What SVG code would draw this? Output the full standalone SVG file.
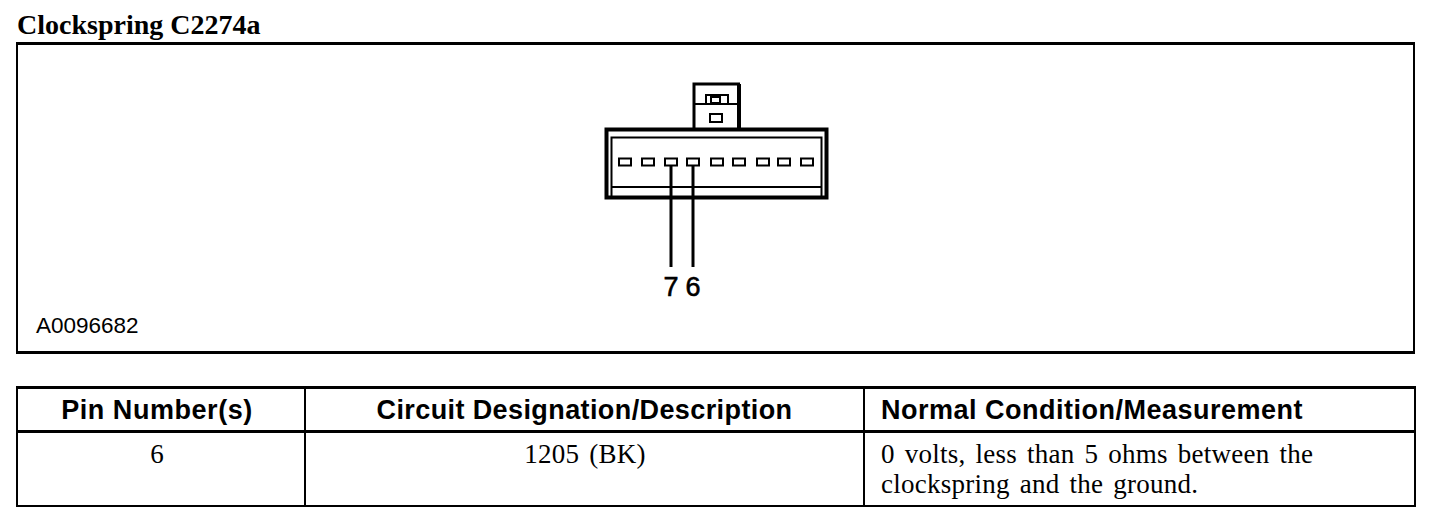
<svg xmlns="http://www.w3.org/2000/svg" width="1456" height="526" viewBox="0 0 1456 526">
<style>
.b{fill:none;stroke:#000;stroke-width:3}
.t{fill:none;stroke:#000;stroke-width:2}
.p{fill:#fff;stroke:#000;stroke-width:2}
.sans{font-family:"Liberation Sans",Arial,sans-serif;fill:#000}
.serif{font-family:"Liberation Serif","Times New Roman",serif;fill:#000}
.h{font-size:27px;font-weight:700}
.c{font-size:27px;word-spacing:3px;letter-spacing:.25px}
.n{font-size:27px;text-anchor:middle;stroke:#000;stroke-width:.6}
</style>
<rect width="1456" height="526" fill="#fff"/>
<text id="title" class="serif" x="17" y="34" font-size="28" font-weight="700">Clockspring C2274a</text>
<g id="frame">
<path class="b" d="M16 43.500H1415M16 352.500H1415"/>
<path class="t" d="M17 43V354M1414 43V354"/>
</g>
<g id="connector">
<path d="M694 129V84H738.500V129" fill="none" stroke="#000" stroke-width="3"/>
<path d="M739 84V129" fill="none" stroke="#000" stroke-width="4"/>
<path class="t" d="M694 104H739"/>
<rect class="t" x="706" y="95" width="22" height="9"/>
<rect class="t" x="711" y="97" width="9" height="6"/>
<rect class="t" x="710" y="114" width="12" height="8"/>
<rect x="606.500" y="129.500" width="220" height="68" fill="#fff" stroke="#000" stroke-width="4"/>
<rect class="t" x="611.500" y="137.500" width="210" height="60"/>
<path class="t" d="M612 187H822"/>
<g id="pins">
<rect class="p" x="619" y="158.500" width="12" height="7"/>
<rect class="p" x="642" y="158.500" width="12" height="7"/>
<rect class="p" x="665" y="158.500" width="12" height="7"/>
<rect class="p" x="687" y="158.500" width="12" height="7"/>
<rect class="p" x="711" y="158.500" width="12" height="7"/>
<rect class="p" x="733" y="158.500" width="12" height="7"/>
<rect class="p" x="757" y="158.500" width="12" height="7"/>
<rect class="p" x="778" y="158.500" width="12" height="7"/>
<rect class="p" x="801" y="158.500" width="12" height="7"/>
</g>
</g>
<g id="connectors">
<path class="b" d="M671 165V267"/>
<path class="b" d="M693 165V267"/>
</g>
<text id="pin7" class="sans n" x="671" y="296">7</text>
<text id="pin6" class="sans n" x="693" y="296">6</text>
<text id="figure-id" class="sans" x="36" y="333" font-size="22.500">A0096682</text>
<g id="table">
<path class="b" d="M16 387.500H1416M16 431.500H1416"/>
<path class="t" d="M17 387V507M1415 387V507M16 506H1416M305 388V506M864 388V506"/>
<text class="sans h" x="157" y="419" text-anchor="middle" letter-spacing=".55">Pin Number(s)</text>
<text class="sans h" x="584.500" y="419" text-anchor="middle" letter-spacing=".4">Circuit Designation/Description</text>
<text class="sans h" x="881" y="419" letter-spacing=".5">Normal Condition/Measurement</text>
<text class="serif c" x="157" y="463" text-anchor="middle">6</text>
<text class="serif c" x="585" y="463" text-anchor="middle">1205 (BK)</text>
<text class="serif c" x="881" y="463">0 volts, less than 5 ohms between the</text>
<text class="serif c" x="881" y="493">clockspring and the ground.</text>
</g>
</svg>
